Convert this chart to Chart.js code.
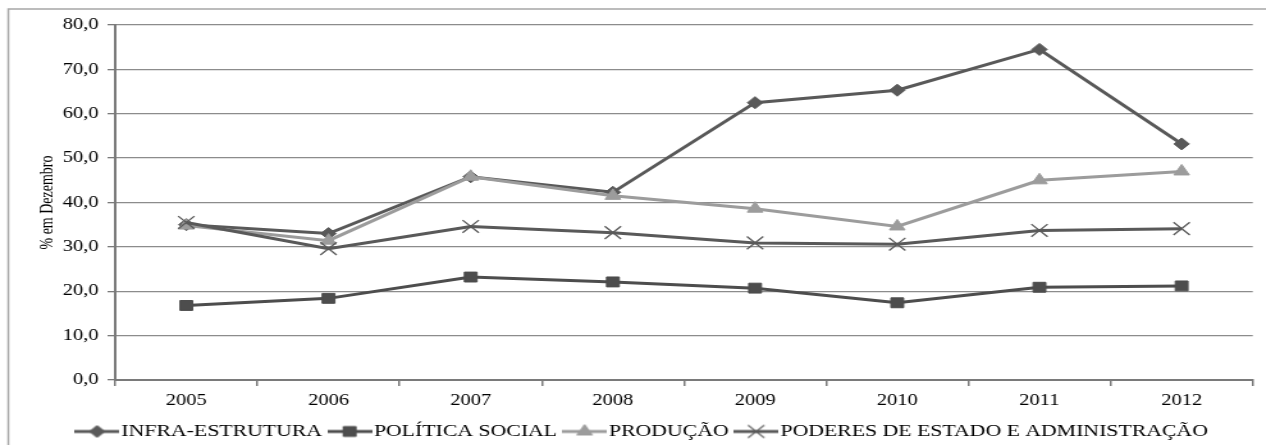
<!DOCTYPE html>
<html>
<head>
<meta charset="utf-8">
<script src="https://cdn.jsdelivr.net/npm/chart.js@4/dist/chart.umd.min.js"></script>
<style>
  html, body { margin: 0; padding: 0; background: #fff; overflow: hidden; }
  /* the original picture is stretched sideways, so draw narrow and stretch */
  #wrap { width: 989px; height: 445px; transform: scaleX(1.28); transform-origin: 0 0; }
</style>
</head>
<body>
<div id="wrap"><canvas id="chart"></canvas></div>
<script>
// ------------------------------ data ----------------------------->>
const years = ['2005', '2006', '2007', '2008', '2009', '2010', '2011', '2012'];
const infraEstrutura = [35.0, 33.0, 45.8, 42.3, 62.5, 65.3, 74.5, 53.2];
const politicaSocial = [16.8, 18.4, 23.2, 22.1, 20.7, 17.4, 20.9, 21.2];
const producao = [34.8, 31.4, 45.8, 41.5, 38.6, 34.6, 45.0, 47.0];
const poderesEstado = [35.5, 29.6, 34.6, 33.2, 30.9, 30.6, 33.7, 34.1];
const yTickLabels = ['0,0', '10,0', '20,0', '30,0', '40,0', '50,0', '60,0', '70,0', '80,0'];

const serif = "'Liberation Serif', 'Times New Roman', Times, serif";
const dark = '#595959';
const darker = '#4d4d4d';
const light = '#9c9c9c';

// small line + marker picture for the legend
function legendImage(color, style, radius, pbw) {
    const c = document.createElement('canvas');
    c.width = 35;
    c.height = 18;
    const g = c.getContext('2d');
    g.strokeStyle = color;
    g.lineWidth = 3;
    g.beginPath();
    g.moveTo(0, 9);
    g.lineTo(35, 9);
    g.stroke();
    g.fillStyle = color;
    g.lineWidth = pbw;
    Chart.helpers.drawPoint(g, { pointStyle: style, radius: radius, rotation: 0, borderWidth: pbw }, 17.5, 9);
    return c;
}

function makeSet(label, data, color, style, radius, pbw, order) {
    return {
        label: label,
        data: data,
        borderColor: color,
        backgroundColor: color,
        borderWidth: 3,
        pointStyle: style,
        pointRadius: radius,
        pointBorderWidth: pbw,
        pointBackgroundColor: color,
        pointBorderColor: color,
        order: order,
        legendImg: legendImage(color, style, radius, pbw)
    };
}

// outer frame like the original picture
const framePlugin = {
    id: 'frame',
    beforeDraw(chart) {
        const ctx = chart.ctx;
        ctx.save();
        ctx.fillStyle = '#fff';
        ctx.fillRect(0, 0, chart.width, chart.height);
        ctx.strokeStyle = '#a6a6a6';
        ctx.lineWidth = 1.5;
        ctx.strokeRect(6.5, 9, chart.width + 20, chart.height + 20);
        ctx.restore();
    }
};

const ctx = document.getElementById('chart').getContext('2d');
const myChart = new Chart(ctx, {
    type: 'line',
    data: {
        labels: years,
        datasets: [
            makeSet('INFRA-ESTRUTURA', infraEstrutura, dark, 'rectRot', 6, 1, 4),
            makeSet('POLÍTICA SOCIAL', politicaSocial, darker, 'rect', 7, 1, 3),
            makeSet('PRODUÇÃO', producao, light, 'triangle', 7, 1, 2),
            makeSet('PODERES DE ESTADO E ADMINISTRAÇÃO', poderesEstado, dark, 'crossRot', 9, 1.3, 1)
        ]
    },
    options: {
        responsive: true,
        maintainAspectRatio: false,
        animation: false,
        layout: { padding: { left: 26, right: 6, top: 25, bottom: 4 } },
        elements: { line: { tension: 0 } },
        scales: {
            x: {
                offset: true,
                grid: { offset: true, drawOnChartArea: false, drawTicks: true, tickLength: 6, color: '#7a7a7a', lineWidth: 1.5 },
                border: { color: '#7a7a7a', width: 2 },
                ticks: { color: '#000', padding: 5, maxRotation: 0, font: { family: serif, size: 16 } },
                afterFit(scale) { scale.height = 32; }
            },
            y: {
                min: 0,
                max: 80,
                ticks: {
                    stepSize: 10,
                    color: '#000',
                    padding: 7,
                    font: { family: serif, size: 16 },
                    callback: (v, i) => yTickLabels[i]
                },
                grid: { color: '#8c8c8c', lineWidth: 1.3, tickLength: 6, tickColor: '#7a7a7a' },
                border: { color: '#7a7a7a', width: 2 },
                title: {
                    display: true,
                    text: '% em Dezembro',
                    color: '#000',
                    padding: 3,
                    font: { family: serif, size: 14 }
                },
                afterFit(scale) { scale.width = 64; }
            }
        },
        plugins: {
            tooltip: { enabled: false },
            legend: {
                position: 'bottom',
                maxHeight: 29,
                labels: {
                    usePointStyle: true,
                    boxHeight: 12,
                    pointStyleWidth: 21,
                    padding: 11,
                    color: '#000',
                    font: { family: serif, size: 17 },
                    sort: (a, b) => a.datasetIndex - b.datasetIndex,
                    generateLabels(chart) {
                        return chart.data.datasets.map((ds, i) => ({
                            text: ds.label,
                            pointStyle: ds.legendImg,
                            fillStyle: ds.borderColor,
                            strokeStyle: ds.borderColor,
                            fontColor: '#000',
                            lineWidth: 0,
                            hidden: false,
                            datasetIndex: i
                        }));
                    }
                }
            }
        }
    },
    plugins: [framePlugin]
});
</script>
</body>
</html>
